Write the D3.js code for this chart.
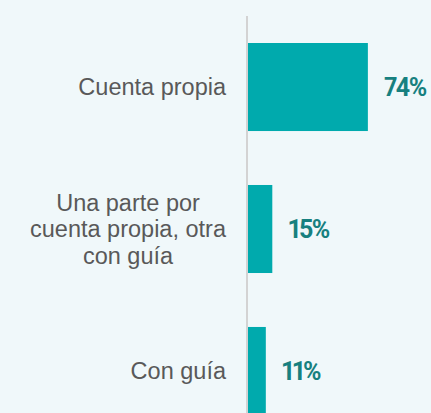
<!DOCTYPE html>
<html>
<head>
<meta charset="utf-8">
<script src="https://cdn.jsdelivr.net/npm/d3@7"></script>
<style>
  html, body { margin: 0; padding: 0; background: #f0f8fa; }
  svg { display: block; }
</style>
</head>
<body>
<script>
var categories = [
  ["Cuenta propia"],
  ["Una parte por", "cuenta propia, otra", "con guía"],
  ["Con guía"]
];
var values = [74, 15, 11];
var valueLabels = ["74%", "15%", "11%"];

var WIDTH = 431;
var HEIGHT = 413;
var AXIS_X = 247;
var BAR_X = 248;
var LABEL_RIGHT = 226;
var LINE_H = 26.5;

var svg = d3.select("body")
  .append("svg")
  .attr("width", WIDTH)
  .attr("height", HEIGHT);

svg.append("rect")
  .attr("width", WIDTH)
  .attr("height", HEIGHT)
  .attr("fill", "#f0f8fa");

var x = d3.scaleLinear()
  .domain([0, 100])
  .range([BAR_X, BAR_X + 162]);

var y = d3.scaleBand()
  .domain(d3.range(values.length))
  .range([43, 415])
  .paddingInner(0.38)
  .paddingOuter(0);

// bars
svg.selectAll("rect.bar")
  .data(values)
  .enter()
  .append("rect")
  .classed("bar", true)
  .attr("x", x(0))
  .attr("y", (d, i) => y(i))
  .attr("width", d => x(d) - x(0))
  .attr("height", y.bandwidth())
  .attr("fill", "#00aaad");

// vertical axis line
svg.append("line")
  .attr("x1", AXIS_X)
  .attr("x2", AXIS_X)
  .attr("y1", 16)
  .attr("y2", HEIGHT)
  .attr("stroke", "#d3d3d3")
  .attr("stroke-width", 2);

// value labels
svg.selectAll("text.value")
  .data(values)
  .enter()
  .append("text")
  .classed("value", true)
  .attr("x", d => x(d) + 16)
  .attr("y", (d, i) => y(i) + y.bandwidth() / 2)
  .attr("dy", "0.36em")
  .style("font-family", "Roboto, sans-serif")
  .style("font-weight", 700)
  .style("font-size", "25px")
  .style("letter-spacing", "-1.4px")
  .style("font-variant-numeric", "proportional-nums")
  .attr("fill", "#17807f")
  .text((d, i) => valueLabels[i]);

// category labels (multi-line ones are centred within their block)
var cats = svg.selectAll("g.cat")
  .data(categories)
  .enter()
  .append("g")
  .classed("cat", true);

cats.each(function(lines, i) {
  var g = d3.select(this);
  var cy = y(i) + y.bandwidth() / 2;
  var t = g.selectAll("text")
    .data(lines)
    .enter()
    .append("text")
    .attr("y", (d, j) => cy + (j - (lines.length - 1) / 2) * LINE_H)
    .attr("dy", "0.35em")
    .style("font-family", "'Liberation Sans', Arial, sans-serif")
    .style("font-size", "23.5px")
    .attr("fill", "#595959")
    .text(d => d);

  if (lines.length == 1) {
    t.attr("x", LABEL_RIGHT).attr("text-anchor", "end");
  } else {
    var maxW = d3.max(t.nodes(), n => n.getComputedTextLength());
    t.attr("x", LABEL_RIGHT - maxW / 2).attr("text-anchor", "middle");
  }
});
</script>
</body>
</html>
